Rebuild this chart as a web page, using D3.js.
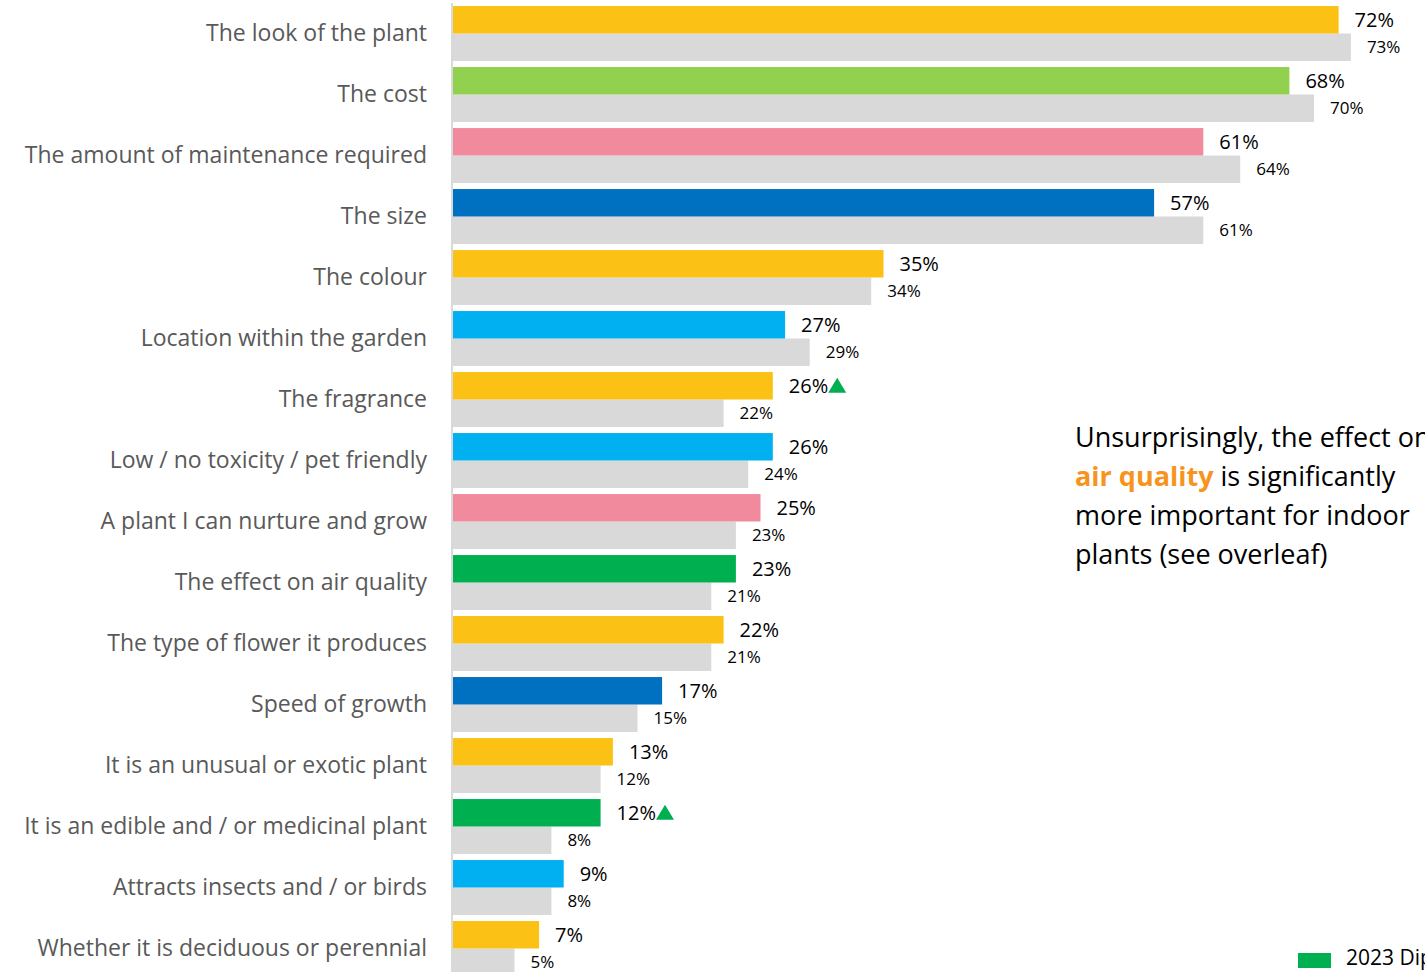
<!DOCTYPE html>
<html>
<head>
<meta charset="utf-8">
<script src="https://cdn.jsdelivr.net/npm/d3@7"></script>
<style>
  html, body { margin: 0; padding: 0; background: #fff; overflow: hidden; }
  svg { display: block; font-family: "Open Sans", Lato, sans-serif; }
</style>
</head>
<body>
<svg id="chart" width="1425" height="972"></svg>
<script>
// Plant choice factors: current wave vs previous wave
const categories = [
  "The look of the plant",
  "The cost",
  "The amount of maintenance required",
  "The size",
  "The colour",
  "Location within the garden",
  "The fragrance",
  "Low / no toxicity / pet friendly",
  "A plant I can nurture and grow",
  "The effect on air quality",
  "The type of flower it produces",
  "Speed of growth",
  "It is an unusual or exotic plant",
  "It is an edible and / or medicinal plant",
  "Attracts insects and / or birds",
  "Whether it is deciduous or perennial"
];
const current  = [72, 68, 61, 57, 35, 27, 26, 26, 25, 23, 22, 17, 13, 12, 9, 7];
const previous = [73, 70, 64, 61, 34, 29, 22, 24, 23, 21, 21, 15, 12, 8, 8, 5];
const barColors = ["#FBC115", "#92D050", "#F28A9E", "#0070C0", "#FBC115", "#00B0F0", "#FBC115", "#00B0F0",
                   "#F28A9E", "#00B050", "#FBC115", "#0070C0", "#FBC115", "#00B050", "#00B0F0", "#FBC115"];
const sigUp = [false, false, false, false, false, false, true, false, false, false, false, false, false, true, false, false];
const seriesKeys = ["current", "previous"];
const legendLabel = "2023 Dipstick";

const svg = d3.select("#chart");
const x0 = 453;

const x = d3.scaleLinear().domain([0, 100]).range([x0, x0 + 1230]);
const y = d3.scaleBand().domain(categories).range([3, 979]).paddingInner(0.1).paddingOuter(0.05);
const ySub = d3.scaleBand().domain(seriesKeys).range([0, y.bandwidth()]);

const rows = categories.map((c, i) => ({ cat: c, current: current[i], previous: previous[i], color: barColors[i], up: sigUp[i] }));

// category axis
const yAxis = svg.append("g")
  .attr("transform", `translate(${x0 - 1},0)`)
  .call(d3.axisLeft(y).tickSize(0).tickPadding(25));
yAxis.select(".domain").remove();
yAxis.selectAll("text")
  .attr("fill", "#595959")
  .style("font-size", "23px")
  .style("font-family", "'Open Sans', sans-serif");

svg.append("line")
  .attr("x1", x0 - 1).attr("x2", x0 - 1)
  .attr("y1", 3).attr("y2", 972)
  .attr("stroke", "#D9D9D9").attr("stroke-width", 2);

const g = svg.selectAll(".row").data(rows).join("g")
  .attr("class", "row")
  .attr("transform", d => `translate(0,${y(d.cat)})`);

// previous wave (grey)
g.append("rect")
  .attr("x", x(0)).attr("y", ySub("previous"))
  .attr("width", d => x(d.previous) - x(0)).attr("height", ySub.bandwidth())
  .attr("fill", "#D9D9D9");

// current wave (coloured)
g.append("rect")
  .attr("x", x(0)).attr("y", ySub("current"))
  .attr("width", d => x(d.current) - x(0)).attr("height", ySub.bandwidth())
  .attr("fill", d => d.color);

// value labels
const curLab = g.append("text")
  .attr("x", d => x(d.current) + 16)
  .attr("y", ySub("current") + ySub.bandwidth() / 2)
  .attr("dy", "0.35em")
  .attr("fill", "#000")
  .style("font-size", "20px")
  .text(d => d.current + "%");

g.append("text")
  .attr("x", d => x(d.previous) + 16)
  .attr("y", ySub("previous") + ySub.bandwidth() / 2)
  .attr("dy", "0.35em")
  .attr("fill", "#000")
  .style("font-size", "17px")
  .text(d => d.previous + "%");

// significance markers
curLab.each(function(d) {
  if (!d.up) return;
  const w = this.getComputedTextLength();
  const cx = x(d.current) + 16 + w + 9;
  const cy = ySub("current") + ySub.bandwidth() / 2;
  d3.select(this.parentNode).append("path")
    .attr("d", `M${cx - 9},${cy + 7} L${cx + 9},${cy + 7} L${cx},${cy - 8} Z`)
    .attr("fill", "#00B050");
});

// commentary
const note = svg.append("text")
  .attr("x", 1075).attr("y", 447)
  .style("font-size", "27px")
  .attr("fill", "#000");
note.append("tspan").attr("x", 1075).attr("dy", 0).text("Unsurprisingly, the effect on");
const l2 = note.append("tspan").attr("x", 1075).attr("dy", 39);
l2.append("tspan").attr("fill", "#F7941D").style("font-weight", "bold").text("air quality");
l2.append("tspan").text(" is significantly");
note.append("tspan").attr("x", 1075).attr("dy", 39).text("more important for indoor");
note.append("tspan").attr("x", 1075).attr("dy", 39).text("plants (see overleaf)");

// legend
svg.append("rect").attr("x", 1298).attr("y", 953).attr("width", 33).attr("height", 15).attr("fill", "#00B050");
svg.append("text").attr("x", 1346).attr("y", 965).style("font-size", "21px").attr("fill", "#000").text(legendLabel);
</script>
</body>
</html>
